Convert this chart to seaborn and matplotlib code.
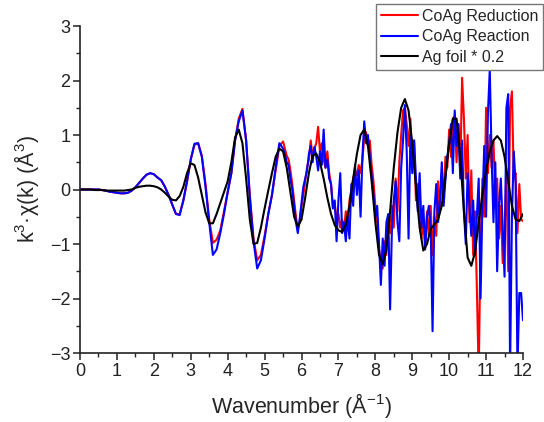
import numpy as np
import pandas as pd
import matplotlib
matplotlib.use("Agg")
import matplotlib.pyplot as plt
from matplotlib.ticker import MultipleLocator
import seaborn as sns

# ---------------- data ----------------
# Ag foil * 0.2 (step 0.1 from 0 to 12)
k_foil = np.round(np.arange(0, 12.0001, 0.1), 2)
ag_foil = [0, 0, 0, 0, -0.01, -0.01, -0.01, -0.02, -0.02, -0.02,
           -0.02, -0.02, -0.02, -0.01, 0.0, 0.03, 0.05, 0.06, 0.07, 0.07,
           0.06, 0.04, 0.0, -0.06, -0.13, -0.19, -0.2, -0.12, 0.05, 0.3,
           0.48, 0.45, 0.22, -0.1, -0.42, -0.62, -0.62, -0.45, -0.25, -0.05,
           0.15, 0.5, 0.95, 1.1, 0.85, 0.2, -0.55, -1.0, -0.98, -0.7,
           -0.35, -0.02, 0.3, 0.6, 0.75, 0.7, 0.4, -0.05, -0.5, -0.68,
           -0.55, -0.15, 0.3, 0.62, 0.66, 0.5, 0.2, -0.15, -0.45, -0.65,
           -0.75, -0.78, -0.65, -0.3, 0.2, 0.65, 1.0, 1.1, 0.8, 0.15,
           -0.6, -1.2, -1.37, -1.1, -0.4, 0.4, 1.05, 1.5, 1.66, 1.45,
           0.85, 0.05, -0.7, -1.12, -1.0, -0.72, -0.64, -0.55, -0.3, 0.25,
           0.85, 1.3, 1.3, 0.6, -0.4, -1.25, -1.4, -1.15, -0.6, -0.1,
           0.35, 0.7, 0.9, 0.98, 0.9, 0.6, 0.15, -0.3, -0.55, -0.58,
           -0.45]

# CoAg samples: step 0.1 up to 5.5, then step 0.05 up to 12
k_sample = np.round(np.concatenate([np.arange(0, 5.5001, 0.1),
                                    np.arange(5.55, 12.0001, 0.05)]), 2)
coag_reduction = [
    0, 0, 0, 0, 0, 0, -0.01, -0.02, -0.04, -0.05,
    -0.06, -0.07, -0.07, -0.06, -0.02, 0.04, 0.12, 0.2, 0.27, 0.3,
    0.28, 0.22, 0.17, 0.05, -0.1, -0.28, -0.45, -0.45, -0.2, 0.15,
    0.55, 0.82, 0.85, 0.62, 0.1, -0.55, -0.98, -0.92, -0.75, -0.4,
    -0.05, 0.3, 0.9, 1.3, 1.48, 0.9, -0.1, -0.9, -1.3, -1.2,
    -0.85, -0.45, -0.1, 0.35, 0.8, 0.88,
    0.75, 0.62, 0.55, 0.35, 0.1, -0.2, -0.5, -0.72, -0.6, -0.3,
    -0.1, 0.15, 0.4, 0.55, 0.9, 0.6, 0.75, 0.85, 1.15, 0.7,
    0.85, 0.55, 0.4, 0.7, 0.3, 0.1, -0.3, -0.25, -0.55, -0.45,
    -0.7, -0.55, -0.75, -0.4, -0.6, -0.2, 0.0, 0.2, 0.35, 0.25,
    0.45, 0.3, 0.55, 0.95, 1.05, 0.8, 0.9, 0.45, 0.15, -0.3,
    -0.6, -1.1, -1.3, -1.45, -0.95, -1.2, -0.55, -0.8, -0.3, -0.7,
    0.2, -0.4, 0.5, 1.0, 1.45, 1.5, 1.2, 0.8, 1.3, 0.4,
    0.9, -0.2, 0.1, -0.55, -0.9, -0.5, -1.05, -0.4, -0.85, -0.3,
    -1.2, -0.5, -0.85, 0.15, -0.4, 0.3, -0.2, 0.6, 0.4, 1.1,
    0.6, 1.3, 1.35, 0.5, 1.2, 0.3, 2.05, 1.3, 0.2, 1.0,
    -0.6, 0.35, -1.2, -0.4, -1.8, -3.4, -1.0, 0.2, -0.5, 1.5,
    0.3, 1.0, 0.4, 0.9, -0.2, 0.2, -0.9, -0.3, -1.35, -0.8,
    0.3, -1.5, 1.5, 1.8, 0.2, 0.3, -0.8, 0.1, -0.55, -0.58]
coag_reaction = [
    0, 0, 0, 0, 0, 0, -0.01, -0.02, -0.04, -0.05,
    -0.06, -0.07, -0.07, -0.06, -0.02, 0.04, 0.12, 0.2, 0.27, 0.3,
    0.28, 0.22, 0.17, 0.05, -0.1, -0.28, -0.45, -0.47, -0.2, 0.15,
    0.55, 0.84, 0.85, 0.6, 0.05, -0.6, -1.2, -1.1, -0.8, -0.45,
    -0.05, 0.3, 0.9, 1.25, 1.45, 0.9, -0.15, -0.95, -1.45, -1.3,
    -0.9, -0.45, -0.1, 0.4, 0.85, 0.75,
    0.65, 0.5, 0.45, 0.2, 0.0, -0.3, -0.6, -0.8, -0.55, -0.25,
    0.05, 0.2, 0.35, 0.65, 0.8, 0.5, 0.78, 0.6, 0.35, 0.7,
    0.45, 1.1, 0.4, 0.55, 0.2, 0.1, -0.35, -0.2, -0.95, -0.2,
    0.3, -0.8, -0.6, -0.95, -0.5, -0.9, 0.1, -0.3, 0.45, -0.1,
    0.35, -0.5, 0.6, 1.25, 0.85, 1.0, 0.6, 0.25, -0.1, -0.5,
    -0.3, -1.0, -1.75, -0.9, -1.4, -0.6, -0.45, -2.2, -0.7, -0.2,
    0.15, -0.6, -0.95, 0.4, 0.9, 1.55, 0.7, -0.9, 1.0, 0.3,
    0.9, 0.2, -0.4, 0.3, -0.7, -0.3, -1.1, -0.5, -0.3, -0.7,
    -2.6, -0.4, 0.1, -0.6, -0.2, 0.5, -0.3, 0.2, 0.6, 0.85,
    1.2, 0.3, 1.45, 0.8, 1.2, 0.2, 0.9, -0.4, -1.0, 0.3,
    -0.3, -0.85, -0.2, -1.2, -0.5, 0.2, -2.0, -0.3, 0.8, -0.5,
    1.4, 2.2, 0.6, -0.6, 0.5, -1.5, -0.3, 0.2, -0.7, -1.6,
    1.5, 1.75, -3.3, -0.5, 0.7, 0.1, -3.3, -1.9, -1.9, -2.4]

labels = ["CoAg Reduction", "CoAg Reaction", "Ag foil * 0.2"]
colors = ["#ff0000", "#0000ff", "#000000"]

df_red = pd.DataFrame({"k": k_sample, "chi": coag_reduction})
df_blue = pd.DataFrame({"k": k_sample, "chi": coag_reaction})
df_foil = pd.DataFrame({"k": k_foil, "chi": ag_foil})

# ---------------- plot ----------------
sns.set_style("ticks")
plt.rcParams["font.family"] = ["Liberation Sans", "DejaVu Sans"]
plt.rcParams["mathtext.default"] = "regular"

fig = plt.figure(figsize=(5.44, 4.22), dpi=100)
ax = fig.add_axes([80 / 544, 1 - 353 / 422, 443 / 544, 327 / 422])

for d, lab, c in zip([df_red, df_blue, df_foil], labels, colors):
    sns.lineplot(data=d, x="k", y="chi", ax=ax, color=c, linewidth=1.5,
                 label=lab, sort=False, estimator=None)

ax.set_xlim(0, 12)
ax.set_ylim(-3, 3)
ax.xaxis.set_major_locator(MultipleLocator(1))
ax.xaxis.set_minor_locator(MultipleLocator(0.5))
ax.yaxis.set_major_locator(MultipleLocator(1))
ax.yaxis.set_minor_locator(MultipleLocator(0.5))
ax.tick_params(which="major", direction="out", length=5, width=1.1,
               labelsize=13, colors="#222222", pad=2)
ax.tick_params(which="minor", direction="out", length=3, width=1.0,
               colors="#222222")
for s in ["left", "bottom"]:
    ax.spines[s].set_linewidth(1.2)
    ax.spines[s].set_color("#222222")
sns.despine(ax=ax)

ax.set_xlabel(r"Wavenumber (Å$^{-1}$)", fontsize=15.5, labelpad=8)
ax.set_ylabel(r"k$^{3}$·χ(k) (Å$^{3}$)", fontsize=15.5, labelpad=6)

leg = ax.legend(loc="upper right", bbox_to_anchor=(543 / 544, 1 - 4 / 422),
                bbox_transform=fig.transFigure, fontsize=11.5, frameon=True,
                fancybox=False, borderaxespad=0, handlelength=2.3,
                handletextpad=0.25, borderpad=0.3, labelspacing=0.35)
leg.get_frame().set_edgecolor("#777777")
leg.get_frame().set_linewidth(1.0)
leg.get_frame().set_alpha(1)

fig.savefig("out.png", dpi=100)
